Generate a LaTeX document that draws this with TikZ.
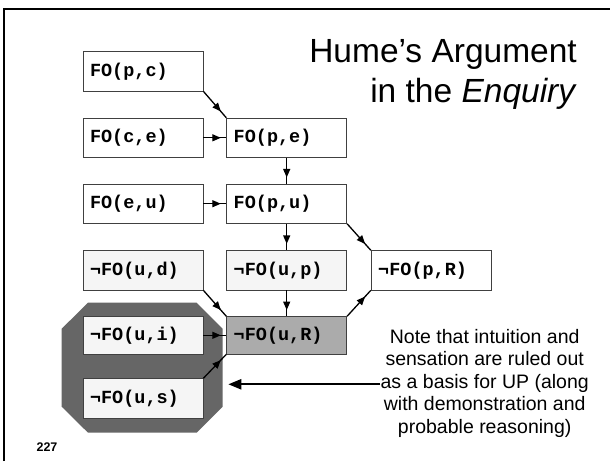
\documentclass[tikz,border=0pt]{standalone}
\usepackage{fontspec}
\setmainfont{Liberation Sans}
\newfontfamily\codefont{Liberation Mono}
\usetikzlibrary{arrows.meta,decorations.markings}

\begin{document}
\begin{tikzpicture}[x=1pt,y=-1pt,
    fo/.style={draw=black!75,line width=0.8pt,fill=white,minimum height=39.3pt,
      text width=106pt,inner xsep=7pt,inner ysep=0pt,align=left,
      font=\codefont\bfseries\fontsize{18.5}{20}\selectfont},
    notfo/.style={fo,fill=black!4},
    flow/.style={line width=1.3pt,postaction={decorate},decoration={markings,
      mark=at position 0.76 with {\arrow{Triangle[length=8.5pt,width=7pt]}}}}]
  \useasboundingbox (0,0) rectangle (610,461);
  \draw[line width=2pt] (4,461) -- (4,8.5) -- (610,8.5);
  % title
  \node[anchor=north east,inner sep=0pt,align=right,font=\fontsize{33.5}{40}\selectfont]
    (title) at (577,39) {Hume's Argument\\in the \textit{Enquiry}};
  % dark octagon behind i and s
  \fill[black!60] (88,302.7) -- (196.7,302.7) -- (222.7,328.7) -- (222.7,406.7)
    -- (196.7,432.7) -- (88,432.7) -- (61.7,406.7) -- (61.7,328.7) -- cycle;
  \coordinate (oct) at (228.3,384.3);
  % boxes
  \node[fo] (pc) at (143,71.3) {FO(p,c)};
  \node[fo] (ce) at (143,137.8) {FO(c,e)};
  \node[fo] (pe) at (286.7,137.8) {FO(p,e)};
  \node[fo] (eu) at (143,203.7) {FO(e,u)};
  \node[fo] (pu) at (286.7,203.7) {FO(p,u)};
  \node[notfo] (ud) at (143,270.3) {¬FO(u,d)};
  \node[notfo] (up) at (286.7,270.3) {¬FO(u,p)};
  \node[fo] (pR) at (431.2,270.3) {¬FO(p,R)};
  \node[notfo,minimum height=37.3pt] (ui) at (143,335.3) {¬FO(u,i)};
  \node[notfo,minimum height=37.3pt,fill=black!33] (uR) at (286.7,335.3) {¬FO(u,R)};
  \node[notfo] (us) at (143,398.3) {¬FO(u,s)};
  % arrows
  \draw[flow] (pc.south east) -- (pe.north west);
  \draw[flow] (ce) -- (pe);
  \draw[flow] (pe) -- (pu);
  \draw[flow] (eu) -- (pu);
  \draw[flow] (pu) -- (up);
  \draw[flow] (pu.south east) -- (pR.north west);
  \draw[flow] (ud.south east) -- (uR.north west);
  \draw[flow] (up) -- (uR);
  \draw[flow] (ui) -- (uR);
  \draw[flow] (us.north east) -- (uR.south west);
  \draw[flow] (uR.north east) -- (pR.south west);
  % note
  \node[anchor=north,inner sep=0pt,align=center,font=\fontsize{19.5}{22.5}\selectfont]
    (note) at (484.7,329) {Note that intuition and\\sensation are ruled out\\as a basis for UP (along\\with demonstration and\\probable reasoning)};
  \draw[line width=2.2pt,-{Triangle[length=13pt,width=10pt]}] (note.west |- oct) -- (oct);
  \node[font=\bfseries\fontsize{12.5}{14}\selectfont] (num) at (47,447) {227};
\end{tikzpicture}
\end{document}
